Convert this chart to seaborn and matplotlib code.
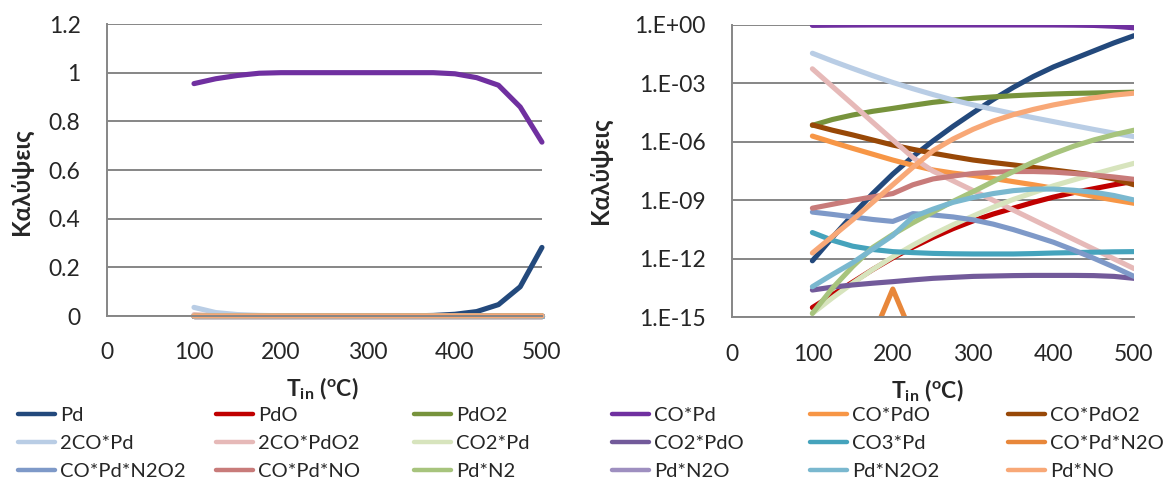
import numpy as np
import pandas as pd
import matplotlib
matplotlib.use("Agg")
import matplotlib.pyplot as plt
import seaborn as sns
from matplotlib.lines import Line2D
from matplotlib.ticker import FixedLocator, NullLocator

# --- dati: log10 della copertura, T da 100 a 500 C ---
T_in = [100, 125, 150, 175, 200, 225, 250, 275, 300, 325, 350, 375, 400, 425, 450, 475, 500]

species = ["Pd", "PdO", "PdO2", "CO*Pd", "CO*PdO", "CO*PdO2",
           "2CO*Pd", "2CO*PdO2", "CO2*Pd", "CO2*PdO", "CO3*Pd", "CO*Pd*N2O",
           "CO*Pd*N2O2", "CO*Pd*NO", "Pd*N2", "Pd*N2O", "Pd*N2O2", "Pd*NO"]

colors = ["#23497C", "#C00000", "#77933C", "#7030A0", "#F79646", "#984807",
          "#B9CDE5", "#E6B9B8", "#D7E4BD", "#725A9A", "#45A3BC", "#E8873A",
          "#7E99C8", "#C87B7A", "#A7C47D", "#9E8FC0", "#7AB8CF", "#F8A877"]

pd_ = [-12.1, -10.9, -9.75, -8.65, -7.65, -6.75, -5.95, -5.2, -4.5, -3.82, -3.2, -2.64, -2.15, -1.74, -1.33, -0.92, -0.55]
pdo = [-14.5, -13.85, -13.2, -12.55, -11.95, -11.4, -10.9, -10.45, -10.05, -9.7, -9.4, -9.1, -8.83, -8.6, -8.4, -8.2, -8.02]
pdo2 = [-5.15, -4.85, -4.62, -4.43, -4.28, -4.12, -3.97, -3.86, -3.76, -3.69, -3.63, -3.58, -3.54, -3.51, -3.49, -3.47, -3.45]
co_pd = [-0.020, -0.011, -0.005, -0.001, 0, 0, 0, 0, 0, 0, 0, 0, -0.002, -0.009, -0.023, -0.066, -0.146]
co_pdo = [-5.7, -6.02, -6.33, -6.63, -6.93, -7.2, -7.44, -7.6, -7.72, -7.88, -8.04, -8.2, -8.38, -8.58, -8.8, -8.98, -9.15]
co_pdo2 = [-5.13, -5.4, -5.64, -5.9, -6.16, -6.38, -6.58, -6.76, -6.93, -7.06, -7.18, -7.31, -7.44, -7.57, -7.7, -7.9, -8.2]
two_co_pd = [-1.45, -1.85, -2.23, -2.6, -2.95, -3.27, -3.57, -3.85, -4.1, -4.33, -4.55, -4.76, -4.96, -5.16, -5.36, -5.55, -5.73]
two_co_pdo2 = [-2.25, -3.16, -4.07, -4.99, -5.9, -6.8, -7.5, -8.0, -8.5, -9.0, -9.5, -10.0, -10.5, -11.0, -11.5, -12.0, -12.5]
co2_pd = [-14.8, -14.0, -13.25, -12.55, -11.9, -11.3, -10.75, -10.25, -9.8, -9.35, -8.95, -8.6, -8.25, -7.95, -7.65, -7.37, -7.1]
co2_pdo = [-13.6, -13.45, -13.34, -13.25, -13.17, -13.08, -13.0, -12.95, -12.9, -12.88, -12.86, -12.85, -12.85, -12.85, -12.86, -12.9, -13.0]
co3_pd = [-10.65, -11.05, -11.35, -11.52, -11.63, -11.68, -11.72, -11.74, -11.75, -11.75, -11.75, -11.73, -11.7, -11.68, -11.66, -11.64, -11.63]
co_pd_n2o = [-18, -18, -18, -16, -13.55, -16, -18, -18, -18, -18, -18, -18, -18, -18, -18, -18, -18]
co_pd_n2o2 = [-9.6, -9.72, -9.85, -9.98, -10.08, -9.68, -9.75, -9.85, -10.0, -10.22, -10.5, -10.82, -11.15, -11.55, -11.97, -12.42, -12.9]
co_pd_no = [-9.4, -9.2, -9.0, -8.82, -8.65, -8.2, -7.9, -7.75, -7.62, -7.55, -7.52, -7.52, -7.55, -7.62, -7.7, -7.8, -7.92]
pd_n2 = [-14.8, -13.5, -12.4, -11.42, -10.75, -10.15, -9.6, -9.05, -8.55, -8.03, -7.52, -7.03, -6.6, -6.22, -5.9, -5.63, -5.4]
pd_n2o = [-20, -20, -20, -20, -20, -20, -20, -20, -20, -20, -20, -20, -20, -20, -20, -20, -20]
pd_n2o2 = [-13.43, -12.8, -12.2, -11.5, -10.8, -9.85, -9.45, -9.1, -8.85, -8.65, -8.5, -8.42, -8.42, -8.48, -8.58, -8.75, -8.98]
pd_no = [-11.7, -10.85, -10.0, -9.1, -8.2, -7.3, -6.45, -5.85, -5.35, -4.93, -4.6, -4.33, -4.1, -3.91, -3.74, -3.6, -3.5]

series = [pd_, pdo, pdo2, co_pd, co_pdo, co_pdo2, two_co_pd, two_co_pdo2, co2_pd,
          co2_pdo, co3_pd, co_pd_n2o, co_pd_n2o2, co_pd_no, pd_n2, pd_n2o, pd_n2o2, pd_no]

rows = []
for name, vals in zip(species, series):
    for t, v in zip(T_in, vals):
        rows.append({"T": t, "species": name, "cov": 10.0 ** v})
df = pd.DataFrame(rows)
palette = dict(zip(species, colors))

# --- stile ---
sns.set_theme(style="white")
plt.rcParams["font.family"] = ["Lato", "Noto Sans", "DejaVu Sans"]
plt.rcParams["mathtext.fontset"] = "custom"
plt.rcParams["mathtext.rm"] = "Lato"
plt.rcParams["mathtext.bf"] = "Lato:bold"
plt.rcParams["mathtext.it"] = "Lato:italic"

GRID = "#868686"
LW = 3.7
TICK_FS = 16.5
LAB_FS = 16.5

fig = plt.figure(figsize=(11.68, 4.84), dpi=100)
ax1 = fig.add_axes([0.0916, 0.3471, 0.3724, 0.6033])
ax2 = fig.add_axes([0.6267, 0.3444, 0.3442, 0.6040])

for ax in (ax1, ax2):
    sns.lineplot(data=df, x="T", y="cov", hue="species", hue_order=species,
                 palette=palette, linewidth=LW, legend=False, errorbar=None,
                 ax=ax)
    ax.set_xlim(0, 500)
    ax.xaxis.set_major_locator(FixedLocator([0, 100, 200, 300, 400, 500]))
    ax.yaxis.grid(True, color=GRID, linewidth=1.4)
    ax.set_axisbelow(True)
    for s in ("top", "right"):
        ax.spines[s].set_visible(False)
    for s in ("left", "bottom"):
        ax.spines[s].set_color(GRID)
        ax.spines[s].set_linewidth(1.4)
    ax.tick_params(axis="x", direction="in", length=5, color=GRID, width=1.4,
                   labelsize=TICK_FS, pad=19)
    ax.tick_params(axis="y", direction="out", length=0, labelsize=TICK_FS, pad=19)
    ax.set_xlabel(r"$\mathbf{T_{in}\ (^{o}C)}$", fontsize=LAB_FS)
    ax.set_ylabel("Καλύψεις", fontsize=17.5, fontweight="bold")

# posizioni delle etichette degli assi
ax1.xaxis.set_label_coords(0.494, -0.205)
ax2.xaxis.set_label_coords(0.485, -0.205)
ax1.yaxis.set_label_coords(-0.170, 0.46)
ax2.yaxis.set_label_coords(-0.298, 0.50)

# grafico lineare
for ln in ax1.lines:
    ln.set_clip_on(False)
ax1.set_ylim(0, 1.2)
ax1.set_yticks([0, 0.2, 0.4, 0.6, 0.8, 1.0, 1.2])
ax1.set_yticklabels(["0", "0.2", "0.4", "0.6", "0.8", "1", "1.2"])

# grafico logaritmico
ax2.set_yscale("log")
ax2.set_ylim(1e-15, 1)
ytk = [1e-15, 1e-12, 1e-9, 1e-6, 1e-3, 1]
ax2.yaxis.set_major_locator(FixedLocator(ytk))
ax2.yaxis.set_minor_locator(NullLocator())
ax2.set_yticklabels(["1.E-15", "1.E-12", "1.E-09", "1.E-06", "1.E-03", "1.E+00"])

# legenda: 6 colonne x 3 righe
col_x = [0.0154, 0.185, 0.3545, 0.524, 0.6935, 0.863]
for c in range(6):
    idx = [c, c + 6, c + 12]
    handles = [Line2D([0], [0], color=colors[i], lw=3.2) for i in idx]
    labels = [species[i] for i in idx]
    fig.legend(handles, labels, loc="upper left", bbox_to_anchor=(col_x[c], 0.160),
               frameon=False, fontsize=14.5, handlelength=1.84, handletextpad=0.25,
               labelspacing=0.55, borderaxespad=0, borderpad=0)

fig.savefig("out.png", dpi=100)
